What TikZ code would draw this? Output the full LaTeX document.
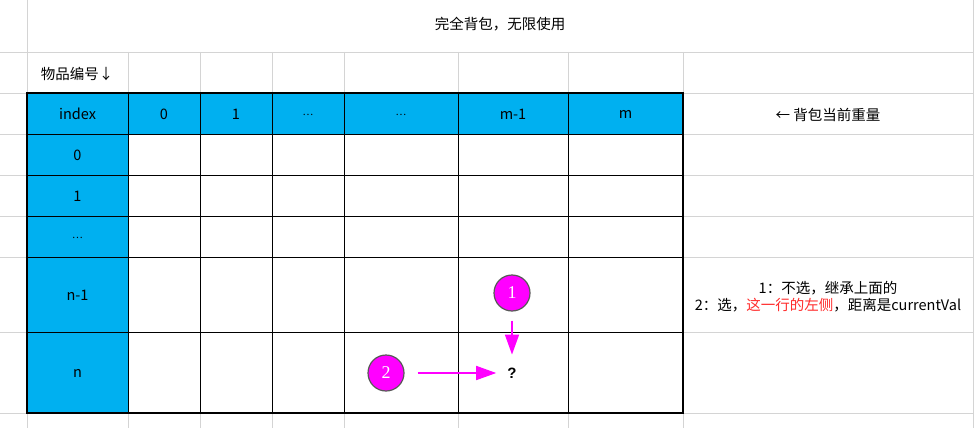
\documentclass[tikz,border=0pt]{standalone}
\usepackage{fontspec}
\newfontfamily\cjk{Noto Sans CJK SC}
\newfontfamily\numfont{Liberation Serif}
\newfontfamily\qfont{Liberation Sans}
\usetikzlibrary{arrows.meta}
\definecolor{cellblue}{HTML}{00B0F0}
\definecolor{gridgray}{HTML}{D4D4D4}
\definecolor{pinkline}{HTML}{FF00FF}
\definecolor{notered}{HTML}{FF2A2A}
\newcommand{\celldots}{{\fontsize{10}{10}\selectfont …}}
\tikzset{
  cell/.style={font=\cjk\fontsize{14.5}{17}\selectfont, inner sep=0pt},
  numdot/.style={circle, fill=pinkline, draw=black!65, line width=1.2pt, minimum size=36pt,
    inner sep=0pt, text=white, font=\numfont\fontsize{18}{18}\selectfont},
  pinkarrow/.style={draw=pinkline, line width=1.6pt, -{Triangle[length=20pt,width=14pt]}}
}
\begin{document}
\begin{tikzpicture}[x=1pt,y=-1pt]
      \useasboundingbox (0,0) rectangle (974,428);
      \fill[white] (0,0) rectangle (974,428);
      % sheet grid
      \foreach \y in {52,93,134,175,216,257,332,413} \draw[gridgray] (0,\y) -- (974,\y);
      \draw[gridgray] (27,0) -- (27,428); \draw[gridgray] (973,0) -- (973,428);
      \foreach \x in {128,200,272,344,458,568,683} \draw[gridgray] (\x,52) -- (\x,428);
      % table
      \fill[white] (27,93) rectangle (683,413);
      \fill[cellblue] (27,93) rectangle (683,134); \fill[cellblue] (27,134) rectangle (128,413);
      \foreach \y in {134,175,216,257,332} \draw[black] (27,\y) -- (683,\y);
      \foreach \x in {128,200,272,344,458,568} \draw[black] (\x,93) -- (\x,413);
      \draw[black, line width=2pt] (27,93) rectangle (683,413);
      % labels
      \node[cell] (title) at (500,24) {完全背包，无限使用};
      \node[cell] (items) at (77,74) {物品编号↓};
      \node[cell] (weight) at (828,115) {← 背包当前重量};
      \node[cell] (hidx) at (77.5,114) {index};
      \node[cell] (h0) at (164,114) {0}; \node[cell] (h1) at (236,114) {1};
      \node[cell] (hd1) at (308,115) {\celldots}; \node[cell] (hd2) at (401,115) {\celldots};
      \node[cell] (hm1) at (513,114) {m-1}; \node[cell] (hm) at (625.5,114) {m};
      \node[cell] (r0) at (77.5,155) {0}; \node[cell] (r1) at (77.5,196) {1};
      \node[cell] (rd) at (77.5,238) {\celldots};
      \node[cell] (rn1) at (77.5,295) {n-1}; \node[cell] (rn) at (77.5,373) {n};
      \node[cell, align=center] (note) at (828,296.5)
        {1：不选，继承上面的\\2：选，\textcolor{notered}{这一行的左侧}，距离是currentVal};
      % choices
      \node[numdot] (c1) at (512,293) {1};
      \node[numdot] (c2) at (386,373) {2};
      \node[font=\qfont\bfseries\fontsize{15}{15}\selectfont, inner sep=1pt] (q) at (512,373) {?};
      \draw[pinkarrow, shorten <=9pt, shorten >=12pt] (c1) -- (q);
      \draw[pinkarrow, shorten <=13pt, shorten >=10pt] (c2) -- (q);
     \end{tikzpicture}
\end{document}
